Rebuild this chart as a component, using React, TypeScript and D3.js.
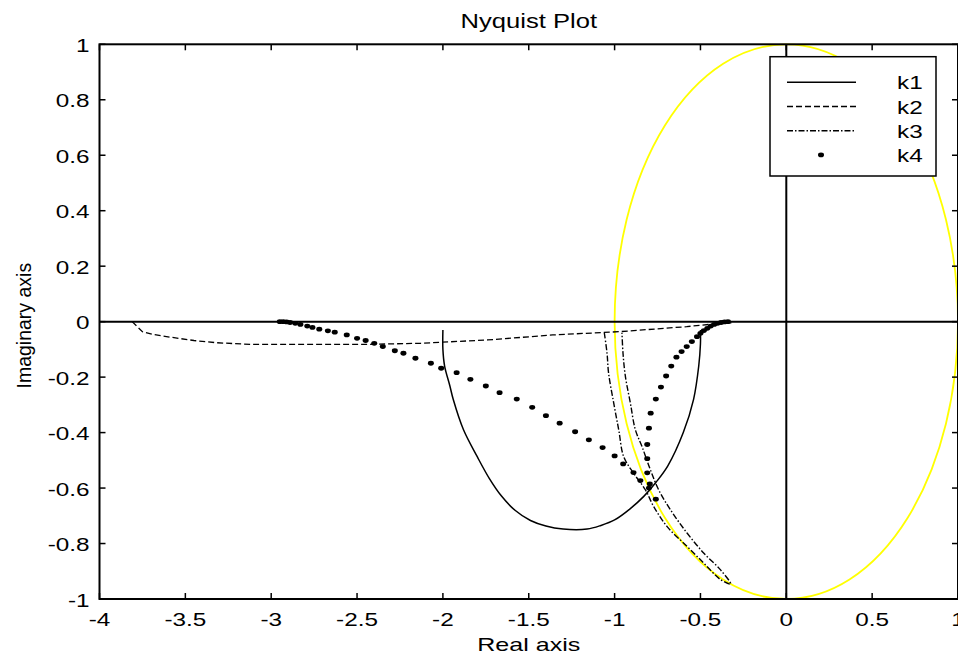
import * as d3 from "d3";

const W = 958;
const H = 656;
const margin = { top: 44.3, right: 0, bottom: 57, left: 99.5 };

// tick values
const xTicks = [-4, -3.5, -3, -2.5, -2, -1.5, -1, -0.5, 0, 0.5, 1];
const yTicks = [-1, -0.8, -0.6, -0.4, -0.2, 0, 0.2, 0.4, 0.6, 0.8, 1];

// k1 solid
const k1Re = [-2.0, -2.0, -1.99, -1.96, -1.94, -1.88, -1.8, -1.73, -1.66, -1.58, -1.49, -1.4, -1.3, -1.16, -1.08, -1.0, -0.91, -0.83, -0.76, -0.69, -0.6, -0.54, -0.51, -0.5, -0.5];
const k1Im = [-0.03, -0.1, -0.16, -0.23, -0.28, -0.39, -0.487, -0.565, -0.628, -0.68, -0.717, -0.737, -0.748, -0.748, -0.735, -0.715, -0.675, -0.63, -0.58, -0.52, -0.4, -0.28, -0.16, -0.08, -0.03];

// k2 dashed
const k2Re = [-3.81, -3.75, -3.68, -3.61, -3.45, -3.32, -3.12, -2.8, -2.44, -2.13, -1.74, -1.36, -0.97, -0.58, -0.45, -0.32];
const k2Im = [0, -0.036, -0.047, -0.054, -0.068, -0.076, -0.082, -0.082, -0.082, -0.078, -0.066, -0.048, -0.036, -0.018, -0.01, -0.004];

// k3 dash-dot (down the left branch, back up the right one)
const k3Re = [-1.06, -1.044, -1.035, -1.005, -0.976, -0.947, -0.889, -0.82, -0.772, -0.694, -0.577, -0.48, -0.383, -0.324, -0.383, -0.48, -0.577, -0.674, -0.743, -0.791, -0.84, -0.879, -0.908, -0.937, -0.951, -0.957];
const k3Im = [-0.04, -0.114, -0.186, -0.294, -0.39, -0.487, -0.547, -0.607, -0.667, -0.739, -0.811, -0.871, -0.93, -0.946, -0.895, -0.835, -0.763, -0.679, -0.607, -0.535, -0.451, -0.39, -0.294, -0.198, -0.114, -0.04];

// k4 dots
const k4Re = [-2.95, -2.93, -2.91, -2.89, -2.86, -2.83, -2.79, -2.76, -2.72, -2.67, -2.63, -2.56, -2.5, -2.45, -2.4, -2.35, -2.28, -2.23, -2.16, -2.07, -2.01, -1.92, -1.84, -1.75, -1.67, -1.57, -1.48, -1.4, -1.32, -1.23, -1.15, -1.07, -1.0, -0.95, -0.89, -0.85, -0.8, -0.76,
  -0.795, -0.81, -0.81, -0.81, -0.8, -0.79, -0.76, -0.73, -0.7, -0.67, -0.64, -0.61, -0.58, -0.55, -0.52, -0.5, -0.48, -0.46, -0.44, -0.42, -0.4, -0.38, -0.36, -0.34];
const k4Im = [0, 0, -0.001, -0.003, -0.006, -0.01, -0.016, -0.021, -0.027, -0.033, -0.038, -0.048, -0.06, -0.068, -0.078, -0.09, -0.105, -0.114, -0.132, -0.15, -0.168, -0.184, -0.208, -0.232, -0.256, -0.279, -0.309, -0.339, -0.366, -0.397, -0.426, -0.454, -0.484, -0.513, -0.544, -0.573, -0.6, -0.64,
  -0.585, -0.545, -0.494, -0.443, -0.384, -0.33, -0.279, -0.236, -0.196, -0.16, -0.128, -0.108, -0.09, -0.072, -0.054, -0.042, -0.032, -0.024, -0.016, -0.01, -0.006, -0.003, -0.001, 0];

const legendLabels = ["k1", "k2", "k3", "k4"];
const unitCircle = { re: 0, im: 0, r: 1 };

const font = "'Liberation Sans', Arial, sans-serif";

function SText({ x, y, sx = 1.35, size = 18, anchor = "middle", children }: any) {
  return (
    <text
      transform={`translate(${x},${y}) scale(${sx},1)`}
      textAnchor={anchor}
      fontFamily={font}
      fontSize={size}
      fill="#000"
    >
      {children}
    </text>
  );
}

export default function App() {
  const x = d3.scaleLinear().domain([-4, 1]).range([margin.left, W - margin.right]);
  const y = d3.scaleLinear().domain([-1, 1]).range([H - margin.bottom, margin.top]);
  const x0 = x.range()[0];
  const x1 = x.range()[1];
  const y0 = y.range()[1];
  const y1 = y.range()[0];

  const toPts = (re: number[], im: number[]) => re.map((r, i) => [r, im[i]] as [number, number]);
  const smooth = d3
    .line<[number, number]>()
    .x((d) => x(d[0]))
    .y((d) => y(d[1]))
    .curve(d3.curveCatmullRom.alpha(0.5));
  const straight = d3
    .line<[number, number]>()
    .x((d) => x(d[0]))
    .y((d) => y(d[1]));

  const tick = 6;
  const legend = { x: 770, y: 56.7, w: 166, h: 119.3 };
  const rowY = (i: number) => 82.3 + i * 24.2;

  return (
    <svg width={W} height={H} style={{ position: "absolute", left: 0, top: 0, background: "#fff" }}>
      <rect x={0} y={0} width={W} height={H} fill="#fff" />

      {/* unit circle */}
      <ellipse
        cx={x(unitCircle.re)}
        cy={y(unitCircle.im)}
        rx={x(unitCircle.r) - x(0)}
        ry={y(-unitCircle.r) - y(0)}
        fill="none"
        stroke="#ffff00"
        strokeWidth={1.8}
      />

      {/* real / imaginary axes through origin */}
      <line x1={x0} x2={x1} y1={y(0)} y2={y(0)} stroke="#000" strokeWidth={2} />
      <line x1={x(0)} x2={x(0)} y1={y0} y2={y1} stroke="#000" strokeWidth={2} />

      <path d={smooth(toPts(k1Re, k1Im)) || ""} fill="none" stroke="#000" strokeWidth={1.5} />
      <path d={straight(toPts(k2Re, k2Im)) || ""} fill="none" stroke="#000" strokeWidth={1.3} strokeDasharray="6 3" />
      <path d={smooth(toPts(k3Re, k3Im)) || ""} fill="none" stroke="#000" strokeWidth={1.4} strokeDasharray="6 2 1.5 2" />
      {k4Re.map((r, i) => (
        <ellipse key={i} cx={x(r)} cy={y(k4Im[i])} rx={3} ry={2.4} fill="#000" />
      ))}

      {/* frame */}
      <rect x={x0} y={y0} width={x1 - x0} height={y1 - y0} fill="none" stroke="#000" strokeWidth={2} />
      {xTicks.map((t) => (
        <g key={"x" + t}>
          <line x1={x(t)} x2={x(t)} y1={y1} y2={y1 - tick} stroke="#000" strokeWidth={1.5} />
          <line x1={x(t)} x2={x(t)} y1={y0} y2={y0 + tick} stroke="#000" strokeWidth={1.5} />
          <SText x={x(t)} y={y1 + 27}>{t}</SText>
        </g>
      ))}
      {yTicks.map((t) => (
        <g key={"y" + t}>
          <line x1={x0} x2={x0 + tick} y1={y(t)} y2={y(t)} stroke="#000" strokeWidth={1.5} />
          <line x1={x1} x2={x1 - tick} y1={y(t)} y2={y(t)} stroke="#000" strokeWidth={1.5} />
          <SText x={x0 - 10} y={y(t) + 7.5} anchor="end">{t}</SText>
        </g>
      ))}

      {/* legend */}
      <rect x={legend.x} y={legend.y} width={legend.w} height={legend.h} fill="#fff" stroke="#000" strokeWidth={1.5} />
      {legendLabels.map((l, i) => (
        <g key={l}>
          {i === 0 && <line x1={787} x2={856} y1={rowY(i)} y2={rowY(i)} stroke="#000" strokeWidth={1.5} />}
          {i === 1 && <line x1={787} x2={856} y1={rowY(i)} y2={rowY(i)} stroke="#000" strokeWidth={1.3} strokeDasharray="6 3" />}
          {i === 2 && <line x1={787} x2={856} y1={rowY(i)} y2={rowY(i)} stroke="#000" strokeWidth={1.4} strokeDasharray="6 2 1.5 2" />}
          {i === 3 && <ellipse cx={821} cy={rowY(i)} rx={3} ry={2.4} fill="#000" />}
          <SText x={897} y={rowY(i) + 7} anchor="start">{l}</SText>
        </g>
      ))}

      {/* titles */}
      <SText x={(x0 + x1) / 2} y={28} size={20} sx={1.28}>Nyquist Plot</SText>
      <SText x={(x0 + x1) / 2} y={651} size={19} sx={1.32}>Real axis</SText>
      <text
        transform={`translate(31,${y(0) + 4}) rotate(-90)`}
        textAnchor="middle"
        fontFamily={font}
        fontSize={19.5}
      >
        Imaginary axis
      </text>
    </svg>
  );
}
